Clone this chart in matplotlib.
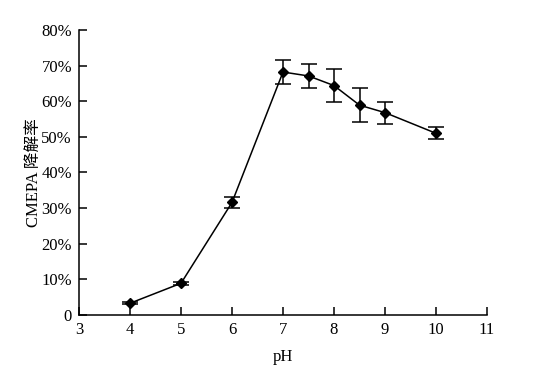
import matplotlib
matplotlib.use("Agg")
import matplotlib.pyplot as plt
from matplotlib.ticker import FuncFormatter

ph = [4, 5, 6, 7, 7.5, 8, 8.5, 9, 10]
rate = [3.3, 8.9, 31.6, 68.2, 67.1, 64.4, 58.9, 56.8, 51.0]
err = [0.3, 0.5, 1.5, 3.4, 3.3, 4.7, 4.8, 3.1, 1.7]
xticks = [3, 4, 5, 6, 7, 8, 9, 10, 11]
yticks = [0, 10, 20, 30, 40, 50, 60, 70, 80]

plt.rcParams['font.family'] = ['Liberation Serif', 'Noto Sans CJK SC']

fig = plt.figure(figsize=(5.43, 3.73), dpi=100)
ax = fig.add_axes([0.1455, 0.1555, 0.7514, 0.7641])

ax.errorbar(ph, rate, yerr=err, color='black', lw=1.1, marker='D', ms=5.5,
            capsize=5.5, capthick=1.1, elinewidth=1.1)

ax.set_xlim(3, 11)
ax.set_ylim(0, 80)
ax.set_xticks(xticks)
ax.set_yticks(yticks)
ax.yaxis.set_major_formatter(FuncFormatter(lambda v, p: '0' if v == 0 else f'{int(v)}%'))
ax.spines['top'].set_visible(False)
ax.spines['right'].set_visible(False)
for s in ['left', 'bottom']:
    ax.spines[s].set_linewidth(1.1)
ax.tick_params(direction='in', length=5.5, width=1.1, labelsize=12, pad=5)
ax.set_xlabel('pH', fontsize=12, labelpad=8)
ax.set_ylabel('CMEPA 降解率', fontsize=12, labelpad=0)

fig.savefig('out.png', dpi=100)
